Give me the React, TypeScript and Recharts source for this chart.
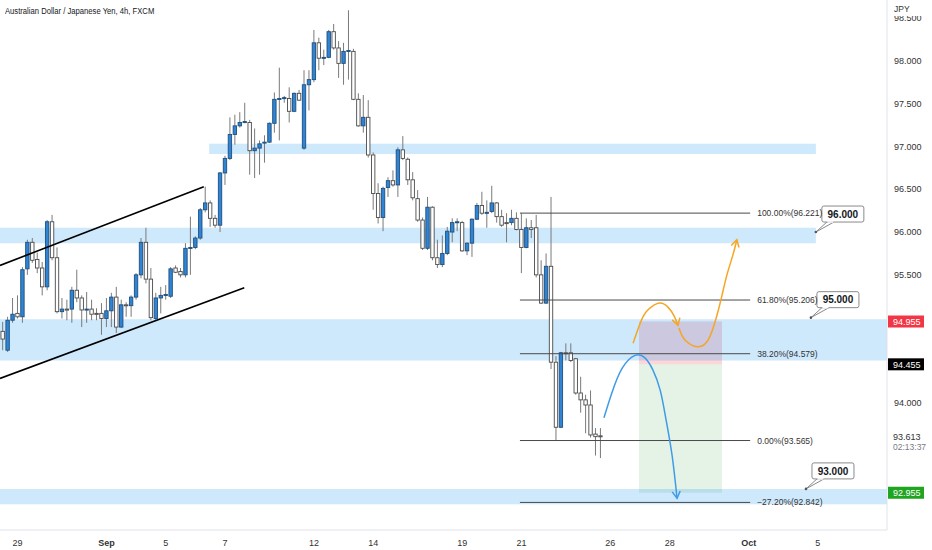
import React from 'react';
import {
  ComposedChart,
  Bar,
  Line,
  XAxis,
  YAxis,
  ReferenceArea,
  ReferenceLine,
  ReferenceDot,
} from 'recharts';

if (typeof document !== 'undefined') document.body.style.margin = '0';

// AUDJPY 4h candles, read left to right off the picture
const candleOpen = [
  94.84, 94.62, 94.97, 95.05, 95.01, 95.57, 95.88, 95.68, 95.58, 95.36,
  96.12, 95.70, 95.07, 95.10, 95.10, 95.32, 95.23, 95.09, 95.10, 95.05,
  95.05, 94.99, 95.08, 95.24, 94.89, 95.15, 95.14, 95.24, 95.50, 95.88,
  95.45, 94.99, 95.23, 95.26, 95.25, 95.58, 95.54, 95.50, 95.81, 95.82,
  95.93, 96.26, 96.34, 96.16, 96.08, 96.69, 96.86, 97.14, 97.24, 97.28,
  97.28, 96.95, 96.98, 97.04, 97.05, 97.27, 97.55, 97.56, 97.56, 97.41,
  97.62, 96.98, 97.72, 97.78, 98.21, 98.03, 98.04, 98.34, 98.15, 97.97,
  98.11, 98.11, 97.55, 97.24, 97.34, 96.90, 96.45, 96.17, 96.52, 96.60,
  96.55, 96.96, 96.85, 96.61, 96.39, 96.14, 95.81, 96.29, 95.70, 95.62,
  95.75, 96.00, 96.11, 96.11, 95.78, 95.87, 96.15, 96.31, 96.23, 96.24,
  96.34, 96.18, 96.11, 96.11, 96.16, 96.03, 95.82, 96.05, 96.05, 95.50,
  95.17, 95.60, 94.48, 93.72, 94.59, 94.59, 94.52, 94.12, 94.04, 93.98,
  93.64, 93.62,
];
const candleHigh = [
  94.95, 95.01, 95.23, 95.26, 95.59, 95.91, 95.93, 95.76, 95.65, 96.14,
  96.20, 95.82, 95.23, 95.21, 95.36, 95.56, 95.26, 95.30, 95.21, 95.11,
  95.17, 95.23, 95.29, 95.36, 95.21, 95.18, 95.26, 95.52, 95.93, 96.05,
  95.58, 95.29, 95.36, 95.38, 95.59, 95.61, 95.58, 95.87, 96.18, 95.95,
  96.28, 96.53, 96.37, 96.20, 96.70, 96.89, 97.34, 97.37, 97.40, 97.51,
  97.31, 97.21, 97.07, 97.13, 97.28, 97.63, 97.92, 97.59, 97.69, 97.63,
  97.66, 97.89, 97.89, 98.36, 98.27, 98.13, 98.36, 98.43, 98.23, 98.21,
  98.59, 98.14, 97.62, 97.60, 97.54, 96.93, 96.57, 96.53, 96.64, 96.72,
  96.99, 97.12, 96.87, 96.70, 96.49, 96.17, 96.41, 96.30, 95.91, 95.96,
  96.06, 96.16, 96.16, 96.13, 95.88, 96.16, 96.34, 96.47, 96.37, 96.54,
  96.35, 96.26, 96.22, 96.26, 96.23, 96.22, 96.16, 96.14, 96.20, 95.67,
  95.75, 96.41, 94.55, 94.60, 94.70, 94.70, 94.53, 94.31, 94.10, 94.15,
  93.71, 93.71,
];
const candleLow = [
  94.62, 94.60, 94.94, 94.99, 94.94, 95.50, 95.64, 95.52, 95.26, 95.32,
  95.67, 95.05, 94.99, 94.97, 94.94, 95.18, 94.89, 94.94, 94.97, 94.97,
  94.80, 94.89, 94.89, 94.82, 94.88, 95.01, 95.01, 95.21, 95.46, 95.40,
  94.97, 94.96, 95.05, 95.21, 95.23, 95.52, 95.47, 95.47, 95.50, 95.80,
  95.91, 96.23, 96.06, 96.05, 96.00, 96.55, 96.84, 97.02, 97.22, 97.27,
  96.67, 96.63, 96.67, 96.81, 97.04, 97.16, 97.07, 97.51, 97.28, 97.40,
  97.53, 96.96, 97.42, 97.75, 97.89, 97.95, 98.03, 98.13, 97.80, 97.72,
  97.78, 97.54, 97.23, 97.16, 96.87, 96.26, 96.10, 96.01, 96.41, 96.53,
  96.41, 96.84, 96.55, 96.37, 96.12, 95.79, 95.79, 95.67, 95.58, 95.59,
  95.73, 95.88, 96.01, 95.77, 95.73, 95.71, 96.14, 96.20, 96.05, 96.22,
  96.11, 96.06, 95.88, 96.08, 96.02, 95.52, 95.81, 95.93, 95.47, 95.16,
  95.16, 94.40, 93.57, 93.71, 94.50, 94.48, 94.10, 93.89, 93.65, 93.60,
  93.39, 93.36,
];
const candleClose = [
  94.75, 94.97, 95.04, 95.01, 95.56, 95.88, 95.67, 95.58, 95.36, 96.12,
  95.70, 95.07, 95.10, 95.09, 95.32, 95.23, 95.09, 95.10, 95.04, 95.04,
  94.99, 95.08, 95.24, 94.89, 95.15, 95.14, 95.24, 95.50, 95.88, 95.45,
  95.00, 95.23, 95.26, 95.27, 95.57, 95.53, 95.50, 95.81, 95.82, 95.93,
  96.26, 96.34, 96.16, 96.08, 96.69, 96.86, 97.14, 97.24, 97.28, 97.29,
  96.95, 96.98, 97.03, 97.05, 97.27, 97.55, 97.56, 97.57, 97.41, 97.62,
  97.54, 97.72, 97.78, 98.21, 98.03, 98.04, 98.34, 98.15, 97.97, 98.11,
  98.12, 97.55, 97.24, 97.34, 96.90, 96.45, 96.17, 96.51, 96.60, 96.55,
  96.96, 96.86, 96.61, 96.40, 96.14, 95.81, 96.29, 95.70, 95.62, 95.75,
  96.01, 96.11, 96.12, 95.78, 95.87, 96.15, 96.31, 96.22, 96.23, 96.34,
  96.18, 96.08, 96.10, 96.16, 96.03, 95.82, 96.05, 96.03, 95.50, 95.17,
  95.60, 94.48, 93.72, 94.59, 94.58, 94.50, 94.12, 94.04, 93.98, 93.63,
  93.61, 93.61,
];

// time axis (candle index) and price axis
const dateTicks = [3, 21, 33, 45, 63, 75, 93, 105, 123, 135, 151, 165];
const dateLabels = ['29', 'Sep', '5', '7', '12', '14', '19', '21', '26', '28', 'Oct', '5'];
const priceTicks = [94, 95.5, 96, 96.5, 97, 97.5, 98, 98.5];

// support / resistance zones
const zoneFrom = [-0.55, 41.8, -0.55, -0.55];
const zoneTo = [164.6, 164.6, 179, 179];
const zoneHigh = [96.05, 97.03, 94.98, 93.0];
const zoneLow = [95.87, 96.91, 94.5, 92.82];

// rising channel
const channelUpper = [{ i: -0.55, v: 95.61 }, { i: 40.7, v: 96.53 }];
const channelLower = [{ i: -0.55, v: 94.29 }, { i: 48.9, v: 95.35 }];

// fibonacci retracement
const fibPrices = [96.221, 95.206, 94.579, 93.565, 92.842];
const fibLabels = ['100.00%(96.221)', '61.80%(95.206)', '38.20%(94.579)', '0.00%(93.565)', '\u221227.20%(92.842)'];
const fibSpan = [104.7, 151.3];

// short position tool
const positionSpan = [128.8, 145.6];
const stopPrice = 94.955;
const entryPrice = 94.455;
const targetPrice = 92.955;
const lastPrice = 93.613;

// scenario paths
const orangeUp = [
  { i: 127.6, v: 94.7 }, { i: 129.6, v: 95.01 }, { i: 131.4, v: 95.13 }, { i: 133.1, v: 95.17 },
  { i: 134.7, v: 95.12 }, { i: 135.9, v: 95.02 }, { i: 136.7, v: 94.91 },
];
const orangeBounce = [
  { i: 136.9, v: 94.88 }, { i: 138.1, v: 94.74 }, { i: 140.7, v: 94.66 }, { i: 142.8, v: 94.74 },
  { i: 144.4, v: 94.99 }, { i: 145.6, v: 95.26 }, { i: 146.6, v: 95.5 }, { i: 147.8, v: 95.73 },
  { i: 148.6, v: 95.91 },
];
const blueDrop = [
  { i: 121.7, v: 93.83 }, { i: 123.3, v: 94.12 }, { i: 125.4, v: 94.41 }, { i: 128.0, v: 94.56 },
  { i: 130.0, v: 94.53 }, { i: 131.6, v: 94.39 }, { i: 133.1, v: 94.15 }, { i: 134.3, v: 93.8 },
  { i: 135.5, v: 93.39 }, { i: 136.5, v: 92.89 },
];

// callout notes
const calloutText = ['96.000', '95.000', '93.000'];
const calloutAt = [164.6, 163.6, 162.6];
const calloutPrice = [96.0, 95.0, 93.0];

const candleData = candleOpen.map((o, i) => ({
  i,
  o,
  h: candleHigh[i],
  l: candleLow[i],
  c: candleClose[i],
  range: [candleLow[i], candleHigh[i]],
}));

const BODY_W = 3.4;

const Candle = (props: any) => {
  const { x, y, width, height, payload } = props;
  if (x == null || !payload) return null;
  const top = Math.min(y, y + height);
  const span = Math.abs(height);
  const { o, h, l, c } = payload;
  const py = (v: number) => top + ((h - v) / (h - l || 1)) * span;
  const up = c >= o;
  const mid = x + width / 2;
  const b1 = py(Math.max(o, c));
  const b2 = py(Math.min(o, c));
  return (
    <g>
      <line x1={mid} x2={mid} y1={top} y2={top + span} stroke="#7a7a7a" strokeWidth={1} />
      <rect
        x={mid - BODY_W / 2}
        y={b1}
        width={BODY_W}
        height={Math.max(b2 - b1, 1)}
        fill={up ? '#2f84d4' : '#ffffff'}
        stroke={up ? '#1f4f7e' : '#4a4a4a'}
        strokeWidth={0.9}
      />
    </g>
  );
};

const arrowHead = (last: number, dx: number, dy: number, color: string) => (props: any) => {
  const { cx, cy, index } = props;
  if (index !== last) return <g key={index} />;
  const len = Math.hypot(dx, dy);
  const bx = -dx / len;
  const by = -dy / len;
  const s = 8;
  const a = Math.PI / 6;
  const p1x = cx + s * (bx * Math.cos(a) - by * Math.sin(a));
  const p1y = cy + s * (bx * Math.sin(a) + by * Math.cos(a));
  const p2x = cx + s * (bx * Math.cos(-a) - by * Math.sin(-a));
  const p2y = cy + s * (bx * Math.sin(-a) + by * Math.cos(-a));
  return (
    <path
      key={index}
      d={`M${p1x},${p1y}L${cx},${cy}L${p2x},${p2y}`}
      fill="none"
      stroke={color}
      strokeWidth={1.5}
    />
  );
};

const Callout = (props: any) => {
  const { cx, cy, text } = props;
  if (cx == null) return null;
  const bw = 42;
  const bh = 16;
  const bx = cx + 6;
  const by = cy - 10 - bh;
  return (
    <g>
      <path d={`M${cx},${cy}L${bx + 5},${by + bh}L${bx + 12},${by + bh}Z`} fill="#fff" stroke="#8a8a8a" strokeWidth={1} />
      <rect x={bx} y={by} width={bw} height={bh} rx={2} fill="#fff" stroke="#8a8a8a" strokeWidth={1} />
      <line x1={bx + 5.5} x2={bx + 11.5} y1={by + bh} y2={by + bh} stroke="#fff" strokeWidth={1.5} />
      <circle cx={cx} cy={cy} r={1.3} fill="#555" />
      <text x={bx + bw / 2} y={by + 11.8} textAnchor="middle" fontSize={10} fontWeight={700} fill="#131722">
        {text}
      </text>
    </g>
  );
};

const AxisTag = (props: any) => {
  const { viewBox, text, bg, color, sub } = props;
  if (!viewBox) return null;
  const x = viewBox.x + viewBox.width + 1;
  const y = viewBox.y;
  return (
    <g>
      {bg && <rect x={x} y={y - 6} width={36} height={12} fill={bg} />}
      <text x={x + 5} y={y + 3.2} fontSize={9} fill={color}>
        {text}
      </text>
      {sub && (
        <text x={x + 5} y={y + 13.5} fontSize={8.5} fill="#787b86">
          {sub}
        </text>
      )}
    </g>
  );
};

const DateTick = (props: any) => {
  const { x, y, payload } = props;
  const k = dateTicks.indexOf(payload.value);
  const label = dateLabels[k] ?? '';
  const month = label === 'Sep' || label === 'Oct';
  return (
    <text x={x} y={y + 14} textAnchor="middle" fontSize={9} fontWeight={month ? 700 : 400} fill="#333">
      {label}
    </text>
  );
};

const PriceTick = (props: any) => {
  const { x, y, payload } = props;
  return (
    <text x={x} y={y + 3.2} textAnchor="start" fontSize={9} fill="#333">
      {Number(payload.value).toFixed(3)}
    </text>
  );
};

export default function App() {
  return (
    <div
      style={{
        position: 'relative',
        width: 932,
        height: 550,
        background: '#fff',
        fontFamily: '"Liberation Sans", Arial, sans-serif',
      }}
    >
      <ComposedChart width={932} height={550} data={candleData} margin={{ top: 0, right: 0, bottom: 0, left: 0 }}>
        <XAxis
          dataKey="i"
          type="number"
          domain={[-0.55, 179]}
          allowDataOverflow
          ticks={dateTicks}
          interval={0}
          tick={<DateTick />}
          tickLine={false}
          tickSize={0}
          axisLine={{ stroke: '#e0e3eb' }}
          height={20}
        />
        <YAxis
          orientation="right"
          type="number"
          domain={[92.52, 98.71]}
          allowDataOverflow
          ticks={priceTicks}
          interval={0}
          tick={<PriceTick />}
          tickLine={false}
          tickSize={0}
          tickMargin={7}
          axisLine={{ stroke: '#e0e3eb' }}
          width={45}
        />

        {/* position tool: stop (red) and target (green) */}
        <ReferenceArea x1={positionSpan[0]} x2={positionSpan[1]} y1={entryPrice} y2={stopPrice} fill="#f23645" fillOpacity={0.2} stroke="none" />
        <ReferenceArea x1={positionSpan[0]} x2={positionSpan[1]} y1={targetPrice} y2={entryPrice} fill="#4caf50" fillOpacity={0.15} stroke="none" />

        {zoneHigh.map((hi, k) => (
          <ReferenceArea
            key={`zone-${k}`}
            x1={zoneFrom[k]}
            x2={zoneTo[k]}
            y1={zoneLow[k]}
            y2={hi}
            fill="#2196f3"
            fillOpacity={0.22}
            stroke="none"
            ifOverflow="hidden"
          />
        ))}

        <Bar dataKey="range" barSize={3.4} isAnimationActive={false} shape={(p: any) => <Candle {...p} />} />

        <ReferenceLine
          segment={[{ x: channelUpper[0].i, y: channelUpper[0].v }, { x: channelUpper[1].i, y: channelUpper[1].v }]}
          stroke="#000"
          strokeWidth={1.6}
          ifOverflow="visible"
        />
        <ReferenceLine
          segment={[{ x: channelLower[0].i, y: channelLower[0].v }, { x: channelLower[1].i, y: channelLower[1].v }]}
          stroke="#000"
          strokeWidth={1.6}
          ifOverflow="visible"
        />

        {fibPrices.map((p, k) => (
          <ReferenceLine
            key={`fib-${k}`}
            segment={[{ x: fibSpan[0], y: p }, { x: fibSpan[1], y: p }]}
            stroke="#4a4a4a"
            strokeWidth={1}
            ifOverflow="visible"
            label={{ value: fibLabels[k], position: 'right', offset: 7, fontSize: 8.5, fill: '#333' }}
          />
        ))}

        <Line
          data={orangeUp}
          dataKey="v"
          type="natural"
          stroke="#f5a623"
          strokeWidth={1.5}
          dot={arrowHead(orangeUp.length - 1, 0.3, 1, '#f5a623')}
          activeDot={false}
          isAnimationActive={false}
        />
        <Line
          data={orangeBounce}
          dataKey="v"
          type="natural"
          stroke="#f5a623"
          strokeWidth={1.5}
          dot={arrowHead(orangeBounce.length - 1, 0.25, -1, '#f5a623')}
          activeDot={false}
          isAnimationActive={false}
        />
        <Line
          data={blueDrop}
          dataKey="v"
          type="natural"
          stroke="#3d9be9"
          strokeWidth={1.5}
          dot={arrowHead(blueDrop.length - 1, 0.12, 1, '#3d9be9')}
          activeDot={false}
          isAnimationActive={false}
        />

        {calloutText.map((t, k) => (
          <ReferenceDot
            key={`note-${k}`}
            x={calloutAt[k]}
            y={calloutPrice[k]}
            r={0}
            ifOverflow="visible"
            shape={(p: any) => <Callout {...p} text={t} />}
          />
        ))}

        <ReferenceLine y={stopPrice} stroke="none" ifOverflow="visible" label={<AxisTag text={stopPrice.toFixed(3)} bg="#f23645" color="#fff" />} />
        <ReferenceLine y={entryPrice} stroke="none" ifOverflow="visible" label={<AxisTag text={entryPrice.toFixed(3)} bg="#000" color="#fff" />} />
        <ReferenceLine y={targetPrice} stroke="none" ifOverflow="visible" label={<AxisTag text={targetPrice.toFixed(3)} bg="#1fa51f" color="#fff" />} />
        <ReferenceLine y={lastPrice} stroke="none" ifOverflow="visible" label={<AxisTag text={lastPrice.toFixed(3)} color="#333" sub="02:13:37" />} />
      </ComposedChart>

      <div
        style={{
          position: 'absolute',
          left: 5,
          top: 6,
          fontSize: 8.5,
          lineHeight: '10px',
          color: '#131722',
          whiteSpace: 'nowrap',
          transform: 'scaleX(0.9)',
          transformOrigin: 'left top',
        }}
      >
        Australian Dollar / Japanese Yen, 4h, FXCM
      </div>
      <div
        style={{
          position: 'absolute',
          left: 888,
          top: 0,
          width: 44,
          height: 16,
          background: '#fff',
          fontSize: 8.5,
          lineHeight: '10px',
          color: '#333',
          paddingLeft: 6,
          paddingTop: 4,
          boxSizing: 'border-box',
        }}
      >
        JPY
      </div>
    </div>
  );
}
